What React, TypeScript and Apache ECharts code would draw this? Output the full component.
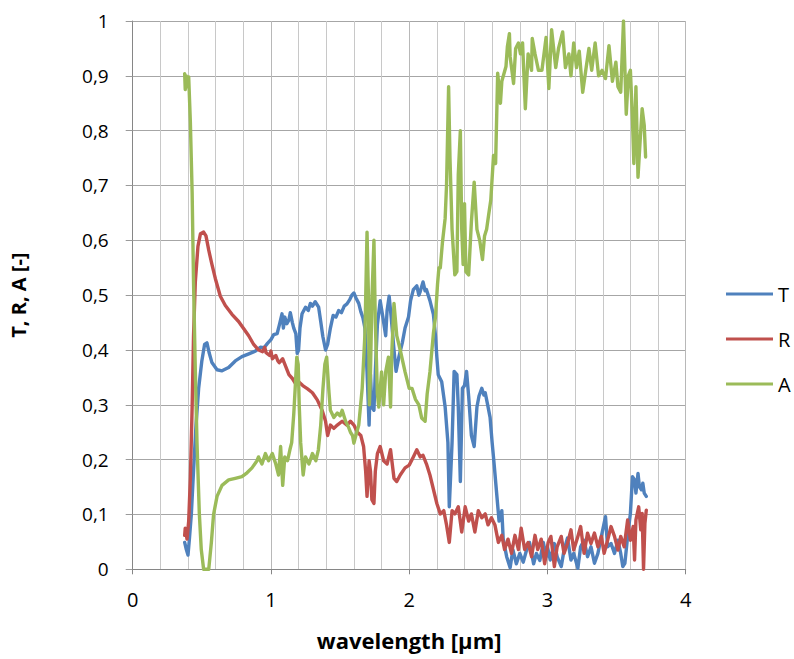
import React, { useEffect, useRef } from "react";
import * as echarts from "echarts";

// Transmittance T: [wavelength µm, value]
const seriesT: [number, number][] = [
  [0.376,0.049],[0.388,0.036],[0.40,0.026],[0.41,0.055],[0.424,0.10],[0.44,0.18],[0.458,0.263],[0.477,0.33],[0.50,0.38],[0.52,0.41],[0.537,0.413],[0.554,0.394],[0.573,0.377],[0.61,0.364],[0.646,0.362],[0.694,0.368],[0.742,0.38],[0.79,0.388],[0.84,0.393],[0.887,0.398],[0.923,0.405],[0.95,0.404],[0.975,0.412],[1.0,0.419],[1.02,0.428],[1.045,0.43],[1.06,0.445],[1.08,0.466],[1.09,0.44],[1.1,0.46],[1.115,0.448],[1.13,0.455],[1.14,0.468],[1.155,0.45],[1.165,0.44],[1.18,0.43],[1.19,0.394],[1.20,0.40],[1.21,0.44],[1.225,0.466],[1.25,0.478],[1.27,0.472],[1.285,0.485],[1.30,0.48],[1.32,0.488],[1.335,0.482],[1.345,0.478],[1.36,0.452],[1.375,0.425],[1.395,0.40],[1.41,0.41],[1.43,0.44],[1.45,0.463],[1.47,0.46],[1.49,0.472],[1.51,0.468],[1.53,0.48],[1.55,0.484],[1.57,0.492],[1.585,0.5],[1.60,0.504],[1.615,0.495],[1.635,0.485],[1.65,0.47],[1.665,0.459],[1.68,0.44],[1.695,0.361],[1.71,0.263],[1.72,0.355],[1.73,0.296],[1.745,0.29],[1.755,0.361],[1.77,0.446],[1.79,0.49],[1.81,0.459],[1.83,0.426],[1.84,0.472],[1.855,0.498],[1.87,0.459],[1.89,0.40],[1.905,0.361],[1.925,0.387],[1.95,0.413],[1.97,0.44],[1.995,0.46],[2.01,0.49],[2.03,0.51],[2.055,0.517],[2.07,0.5],[2.08,0.507],[2.1,0.524],[2.115,0.508],[2.125,0.51],[2.15,0.49],[2.175,0.465],[2.19,0.426],[2.2,0.387],[2.21,0.355],[2.235,0.342],[2.26,0.296],[2.28,0.231],[2.29,0.114],[2.31,0.231],[2.325,0.361],[2.345,0.355],[2.355,0.296],[2.37,0.16],[2.385,0.33],[2.40,0.335],[2.415,0.361],[2.43,0.316],[2.45,0.244],[2.47,0.224],[2.49,0.296],[2.505,0.316],[2.525,0.33],[2.54,0.318],[2.55,0.322],[2.565,0.303],[2.585,0.277],[2.60,0.231],[2.615,0.19],[2.63,0.146],[2.65,0.088],[2.67,0.107],[2.68,0.055],[2.705,0.023],[2.73,0.003],[2.75,0.036],[2.775,0.01],[2.80,0.029],[2.825,0.013],[2.85,0.036],[2.87,0.049],[2.90,0.01],[2.92,0.029],[2.945,0.016],[2.97,0.049],[2.99,0.023],[3.0,0.041],[3.02,0.017],[3.05,0.047],[3.07,0.023],[3.10,0.005],[3.12,0.035],[3.145,0.057],[3.17,0.017],[3.19,0.029],[3.22,0.002],[3.24,0.041],[3.265,0.053],[3.29,0.023],[3.315,0.041],[3.34,0.011],[3.365,0.029],[3.39,0.06],[3.42,0.096],[3.435,0.041],[3.46,0.047],[3.485,0.029],[3.51,0.053],[3.53,0.029],[3.545,0.005],[3.56,0.011],[3.58,0.06],[3.60,0.102],[3.615,0.169],[3.63,0.163],[3.64,0.139],[3.655,0.175],[3.665,0.151],[3.68,0.145],[3.69,0.157],[3.70,0.139],[3.715,0.133]
];

// Reflectance R
const seriesR: [number, number][] = [
  [0.376,0.062],[0.38,0.075],[0.393,0.055],[0.405,0.088],[0.417,0.166],[0.43,0.296],[0.44,0.426],[0.453,0.524],[0.472,0.589],[0.49,0.612],[0.513,0.615],[0.53,0.608],[0.55,0.582],[0.573,0.556],[0.598,0.53],[0.634,0.498],[0.67,0.481],[0.718,0.465],[0.766,0.452],[0.802,0.439],[0.839,0.426],[0.875,0.41],[0.91,0.40],[0.94,0.397],[0.955,0.405],[0.965,0.395],[0.99,0.39],[1.0,0.398],[1.01,0.384],[1.035,0.39],[1.05,0.38],[1.06,0.377],[1.085,0.384],[1.11,0.368],[1.13,0.355],[1.155,0.348],[1.18,0.338],[1.20,0.342],[1.23,0.335],[1.265,0.329],[1.30,0.322],[1.335,0.309],[1.37,0.29],[1.395,0.27],[1.41,0.244],[1.43,0.263],[1.455,0.257],[1.48,0.263],[1.515,0.27],[1.55,0.263],[1.575,0.27],[1.60,0.263],[1.625,0.25],[1.65,0.244],[1.67,0.224],[1.685,0.179],[1.695,0.133],[1.71,0.198],[1.72,0.179],[1.73,0.127],[1.745,0.12],[1.755,0.179],[1.77,0.211],[1.79,0.224],[1.815,0.198],[1.84,0.192],[1.865,0.218],[1.89,0.166],[1.91,0.16],[1.935,0.172],[1.97,0.185],[2.0,0.19],[2.03,0.205],[2.055,0.218],[2.08,0.205],[2.1,0.208],[2.125,0.192],[2.15,0.172],[2.175,0.146],[2.2,0.12],[2.225,0.101],[2.25,0.107],[2.27,0.081],[2.29,0.049],[2.31,0.107],[2.33,0.101],[2.355,0.114],[2.38,0.068],[2.405,0.114],[2.43,0.088],[2.45,0.101],[2.475,0.068],[2.5,0.107],[2.525,0.094],[2.55,0.101],[2.57,0.081],[2.595,0.094],[2.62,0.081],[2.645,0.049],[2.67,0.062],[2.69,0.036],[2.715,0.055],[2.74,0.029],[2.765,0.062],[2.79,0.036],[2.81,0.075],[2.835,0.036],[2.86,0.049],[2.885,0.023],[2.91,0.062],[2.93,0.036],[2.955,0.055],[2.98,0.01],[3.005,0.049],[3.025,0.06],[3.05,0.005],[3.07,0.041],[3.1,0.06],[3.12,0.029],[3.145,0.047],[3.17,0.072],[3.19,0.035],[3.22,0.06],[3.24,0.078],[3.265,0.029],[3.29,0.066],[3.315,0.047],[3.34,0.066],[3.365,0.041],[3.39,0.06],[3.41,0.029],[3.435,0.053],[3.46,0.078],[3.485,0.06],[3.51,0.035],[3.53,0.06],[3.555,0.041],[3.58,0.09],[3.6,0.053],[3.62,0.078],[3.63,0.017],[3.64,0.09],[3.66,0.114],[3.675,0.072],[3.685,0.102],[3.695,0.0],[3.705,0.084],[3.715,0.108]
];

// Absorptance A
const seriesA: [number, number][] = [
  [0.376,0.904],[0.38,0.875],[0.388,0.90],[0.395,0.88],[0.405,0.898],[0.417,0.816],[0.43,0.686],[0.44,0.524],[0.453,0.361],[0.465,0.231],[0.482,0.101],[0.496,0.036],[0.513,0.0],[0.55,0.0],[0.569,0.049],[0.585,0.10],[0.61,0.133],[0.646,0.153],[0.694,0.163],[0.742,0.166],[0.79,0.169],[0.827,0.176],[0.863,0.185],[0.899,0.198],[0.91,0.205],[0.935,0.192],[0.96,0.211],[0.983,0.198],[1.01,0.211],[1.035,0.192],[1.055,0.172],[1.07,0.224],[1.085,0.153],[1.1,0.205],[1.12,0.198],[1.137,0.218],[1.15,0.231],[1.165,0.283],[1.175,0.329],[1.187,0.387],[1.197,0.374],[1.205,0.296],[1.215,0.231],[1.233,0.172],[1.25,0.205],[1.275,0.192],[1.30,0.211],[1.325,0.198],[1.343,0.218],[1.36,0.263],[1.376,0.329],[1.39,0.374],[1.403,0.387],[1.42,0.322],[1.43,0.29],[1.455,0.277],[1.48,0.285],[1.50,0.28],[1.515,0.29],[1.54,0.27],[1.56,0.26],[1.575,0.25],[1.59,0.244],[1.60,0.23],[1.615,0.245],[1.635,0.263],[1.66,0.33],[1.68,0.43],[1.695,0.615],[1.705,0.50],[1.712,0.30],[1.72,0.36],[1.73,0.49],[1.745,0.60],[1.755,0.45],[1.77,0.32],[1.78,0.296],[1.80,0.36],[1.815,0.30],[1.83,0.36],[1.85,0.387],[1.865,0.296],[1.875,0.40],[1.89,0.485],[1.91,0.426],[1.935,0.40],[1.97,0.36],[2.0,0.33],[2.02,0.33],[2.045,0.31],[2.07,0.30],[2.09,0.276],[2.115,0.27],[2.13,0.32],[2.15,0.36],[2.175,0.43],[2.19,0.46],[2.205,0.52],[2.215,0.55],[2.225,0.55],[2.24,0.595],[2.26,0.64],[2.27,0.70],[2.285,0.88],[2.295,0.75],[2.31,0.62],[2.33,0.537],[2.345,0.543],[2.355,0.72],[2.37,0.80],[2.38,0.62],[2.39,0.556],[2.40,0.667],[2.41,0.543],[2.43,0.537],[2.45,0.634],[2.47,0.706],[2.49,0.62],[2.51,0.60],[2.53,0.565],[2.545,0.608],[2.56,0.62],[2.575,0.647],[2.59,0.673],[2.61,0.755],[2.625,0.74],[2.64,0.905],[2.66,0.85],[2.67,0.89],[2.70,0.917],[2.71,0.953],[2.725,0.977],[2.73,0.935],[2.755,0.886],[2.77,0.95],[2.79,0.96],[2.805,0.94],[2.82,0.96],[2.84,0.84],[2.86,0.94],[2.885,0.91],[2.89,0.968],[2.91,0.94],[2.935,0.91],[2.96,0.91],[2.99,0.97],[3.01,0.877],[3.03,0.984],[3.06,0.915],[3.08,0.95],[3.11,0.98],[3.13,0.915],[3.155,0.94],[3.17,0.90],[3.19,0.96],[3.21,0.915],[3.23,0.945],[3.255,0.87],[3.28,0.915],[3.30,0.95],[3.32,0.91],[3.345,0.96],[3.37,0.90],[3.395,0.91],[3.42,0.895],[3.445,0.955],[3.47,0.89],[3.495,0.925],[3.51,0.88],[3.53,0.87],[3.55,1.0],[3.57,0.83],[3.585,0.90],[3.60,0.91],[3.615,0.82],[3.625,0.74],[3.64,0.88],[3.655,0.715],[3.67,0.78],[3.685,0.84],[3.70,0.81],[3.71,0.752]
];

const seriesNames = ["T", "R", "A"];
const seriesColors = ["#4F81BD", "#C0504D", "#9BBB59"];
const xTicks = [0, 1, 2, 3, 4];

const FONT = "'Open Sans', 'Liberation Sans', sans-serif";

export default function App() {
  const ref = useRef<HTMLDivElement>(null);

  useEffect(() => {
    if (!ref.current) return;
    const chart = echarts.init(ref.current, undefined, { renderer: "svg" });
    const data = [seriesT, seriesR, seriesA];
    chart.setOption({
      animation: false,
      backgroundColor: "#ffffff",
      textStyle: { fontFamily: FONT },
      grid: { left: 132.7, right: 108.3, top: 21, bottom: 89.7 },
      legend: {
        orient: "vertical",
        left: 726,
        top: 284,
        padding: 0,
        icon: "rect",
        itemWidth: 47,
        itemHeight: 3,
        itemGap: 25,
        data: seriesNames,
        textStyle: { fontSize: 20, color: "#000", lineHeight: 20, fontFamily: FONT },
      },
      xAxis: {
        type: "value",
        min: xTicks[0],
        max: xTicks[xTicks.length - 1],
        interval: 1,
        name: "wavelength [\u00b5m]",
        nameLocation: "middle",
        nameGap: 60,
        nameTextStyle: { fontSize: 22, fontWeight: "bold", color: "#000", fontFamily: FONT },
        axisLine: { show: true, lineStyle: { color: "#868686", width: 1 } },
        axisTick: { show: true, length: 5, lineStyle: { color: "#868686" } },
        axisLabel: { fontSize: 20, color: "#000", margin: 20, fontFamily: FONT },
        splitLine: { show: true, lineStyle: { color: "#b8b8b8", width: 1 } },
        minorTick: { show: false, splitNumber: 5 },
        minorSplitLine: { show: true, lineStyle: { color: "#c8c8c8", width: 1 } },
      },
      yAxis: {
        type: "value",
        min: 0,
        max: 1,
        interval: 0.1,
        name: "T, R, A [-]",
        nameLocation: "middle",
        nameGap: 104,
        nameTextStyle: { fontSize: 20, fontWeight: "bold", color: "#000", fontFamily: FONT },
        axisLine: { show: true, lineStyle: { color: "#868686", width: 1 } },
        axisTick: { show: true, length: 7, lineStyle: { color: "#9a9a9a" } },
        axisLabel: {
          fontSize: 19,
          color: "#000",
          margin: 24,
          fontFamily: FONT,
          formatter: (v: number) => {
            const r = Math.round(v * 10) / 10;
            if (r === 0 || r === 1) return String(r);
            return r.toFixed(1).replace(".", ",");
          },
        },
        splitLine: { show: true, lineStyle: { color: "#a6a6a6", width: 1 } },
      },
      series: seriesNames.map((name, i) => ({
        name,
        type: "line",
        data: data[i],
        showSymbol: false,
        symbol: "none",
        color: seriesColors[i],
        lineStyle: { color: seriesColors[i], width: 3.4, join: "round", cap: "round" },
        z: 2 + i,
      })),
    });
    return () => chart.dispose();
  }, []);

  return (
    <div
      ref={ref}
      style={{ position: "absolute", left: 0, top: 0, width: 794, height: 659 }}
    />
  );
}
